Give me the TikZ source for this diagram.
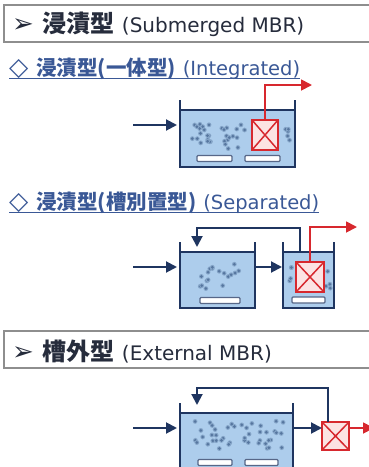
\documentclass[tikz,border=0pt]{standalone}
\usepackage{fontspec}
\setmainfont{DejaVu Sans}
\newfontfamily\cjk{Noto Sans CJK JP}
\usepackage{xcolor}
\usetikzlibrary{positioning}
\usetikzlibrary{arrows.meta}

\definecolor{navy}{HTML}{1F3560}
\definecolor{water}{HTML}{ADCDEC}
\definecolor{memred}{HTML}{D7282E}
\definecolor{mempink}{HTML}{FCE3E3}
\definecolor{boxgray}{HTML}{8E8E8E}
\definecolor{subblue}{HTML}{3A5896}
\definecolor{headtext}{HTML}{262C3C}
\definecolor{bubble}{HTML}{56769F}

% scattered air bubbles: x0, y0, width, height, count
\newcommand{\bubbles}[5]{%
  \foreach \k in {1,...,#5}{%
    \pgfmathsetmacro\bx{#1+#3*rnd}%
    \pgfmathsetmacro\by{#2+#4*rnd}%
    \fill[bubble!45!water] (\bx,\by) circle (2.4pt);
    \fill[bubble] (\bx,\by) circle (1.5pt);
  }}

\begin{document}
\begin{tikzpicture}[x=1pt, y=-1pt,
    headbox/.style={draw=boxgray, line width=1.3pt, fill=white},
    tank/.style={draw=navy, line width=2.2pt, fill=water, inner sep=0pt, outer sep=0pt, anchor=north west},
    wall/.style={draw=navy, line width=2.2pt},
    diffuser/.style={draw=navy!75, line width=1.2pt, fill=white, rounded corners=1pt, inner sep=0pt, minimum height=6pt},
    membrane/.style={draw=memred, line width=2pt, fill=mempink, inner sep=0pt, outer sep=0pt},
    cross/.style={draw=memred, line width=1.5pt},
    flow/.style={draw=navy, line width=2pt, -{Triangle[length=11pt,width=11pt]}},
    permeate/.style={draw=memred, line width=1.8pt, -{Triangle[length=11pt,width=11pt]}},
    headline/.style={anchor=base west, inner sep=0pt, text=headtext},
    subtitle/.style={anchor=base west, inner sep=0pt, text=subblue},
    subline/.style={draw=subblue, line width=1pt},
  ]
  \useasboundingbox (0,0) rectangle (369,467);
  \pgfmathsetseed{11}

  % Header: submerged
  \draw[headbox] (4,5) rectangle (380,42);
  \node[headline] (head1) at (12,32) {{\fontsize{26}{26}\selectfont ➢}\hspace{9pt}{\cjk\bfseries\fontsize{24}{24}\selectfont 浸漬型}\hspace{7pt}{\fontsize{20}{20}\selectfont (Submerged MBR)}};

  % Integrated
  \node[subtitle] (sub1) at (9,75) {{\fontsize{25}{25}\selectfont ◇}\hspace{8pt}{\cjk\bfseries\fontsize{20.5}{20.5}\selectfont 浸漬型(一体型)}\hspace{7pt}{\fontsize{19.5}{19.5}\selectfont (Integrated)}};
  \draw[subline] ([yshift=-3pt]sub1.base west) -- ([yshift=-3pt]sub1.base east);

  \node[tank, minimum width=115pt, minimum height=57pt] (tankA) at (180,110) {};
  \draw[wall] (tankA.north west) -- ++(0,-10);
  \draw[wall] (tankA.north east) -- ++(0,-10);
  \bubbles{190}{123}{58}{27}{32}
  \bubbles{284}{123}{7}{27}{5}
  \node[diffuser, minimum width=35pt] (difA1) at (214.5,158.5) {};
  \node[diffuser, minimum width=35pt] (difA2) at (262.5,158.5) {};
  \node[membrane, minimum width=26pt, minimum height=30pt] (memA) at (265,135) {};
  \draw[cross] (memA.north west) -- (memA.south east) (memA.north east) -- (memA.south west);
  \coordinate (inA) at (133,125);
  \coordinate (outA) at (312,85);
  \draw[flow, shorten >=3pt] (inA) -- (inA -| tankA.west);
  \draw[permeate] (memA.north) |- (outA);

  % Separated
  \node[subtitle] (sub2) at (9,209) {{\fontsize{25}{25}\selectfont ◇}\hspace{8pt}{\cjk\bfseries\fontsize{20.5}{20.5}\selectfont 浸漬型(槽別置型)}\hspace{7pt}{\fontsize{19.5}{19.5}\selectfont (Separated)}};
  \draw[subline] ([yshift=-3pt]sub2.base west) -- ([yshift=-3pt]sub2.base east);

  \node[tank, minimum width=75pt, minimum height=56pt] (tankB1) at (180,252) {};
  \node[tank, minimum width=51pt, minimum height=56pt] (tankB2) at (283,252) {};
  \foreach \t in {tankB1, tankB2}{
    \draw[wall] (\t.north west) -- ++(0,-10);
    \draw[wall] (\t.north east) -- ++(0,-10);
  }
  \bubbles{200}{263}{40}{28}{18}
  \bubbles{288}{267}{5}{22}{4}
  \bubbles{326}{267}{5}{22}{4}
  \node[diffuser, minimum width=40pt] (difB1) at (220,300.5) {};
  \node[diffuser, minimum width=33pt] (difB2) at (308.5,300) {};
  \node[membrane, minimum width=28pt, minimum height=30pt] (memB) at (310,277) {};
  \draw[cross] (memB.north west) -- (memB.south east) (memB.north east) -- (memB.south west);
  \coordinate (inB) at (133,267);
  \coordinate (outB) at (357,227);
  \coordinate (upB) at (300,228);
  \coordinate (downB) at (197,228);
  \draw[flow, shorten >=3pt] (inB) -- (inB -| tankB1.west);
  \draw[flow, shorten >=1pt] (tankB1.east |- inB) -- (tankB2.west |- inB);
  \draw[flow, shorten >=5pt] (tankB2.north -| upB) -- (upB) -- (downB) -- (downB |- tankB1.north);
  \draw[permeate] (memB.north) |- (outB);

  % Header: external
  \draw[headbox] (4,331) rectangle (380,368);
  \node[headline] (head2) at (12,360) {{\fontsize{26}{26}\selectfont ➢}\hspace{9pt}{\cjk\bfseries\fontsize{24}{24}\selectfont 槽外型}\hspace{7pt}{\fontsize{20}{20}\selectfont (External MBR)}};

  \node[tank, minimum width=113pt, minimum height=67pt] (tankC) at (180,413) {};
  \draw[wall] (tankC.north west) -- ++(0,-10);
  \draw[wall] (tankC.north east) -- ++(0,-10);
  \bubbles{194}{421}{90}{28}{44}
  \node[diffuser, minimum width=34pt] (difC1) at (215,462.5) {};
  \node[diffuser, minimum width=33pt] (difC2) at (261.5,462.5) {};
  \node[membrane, minimum width=27pt, minimum height=28pt] (memC) at (335.5,436) {};
  \draw[cross] (memC.north west) -- (memC.south east) (memC.north east) -- (memC.south west);
  \coordinate (inC) at (133,428);
  \coordinate (outC) at (374,428);
  \coordinate (upC) at (328,388);
  \coordinate (downC) at (197,388);
  \draw[flow, shorten >=3pt] (inC) -- (inC -| tankC.west);
  \draw[flow] (tankC.east |- inC) -- (memC.west |- inC);
  \draw[flow, shorten >=8pt] (memC.north -| upC) -- (upC) -- (downC) -- (downC |- tankC.north);
  \draw[permeate] (memC.east |- outC) -- (outC);
\end{tikzpicture}
\end{document}
